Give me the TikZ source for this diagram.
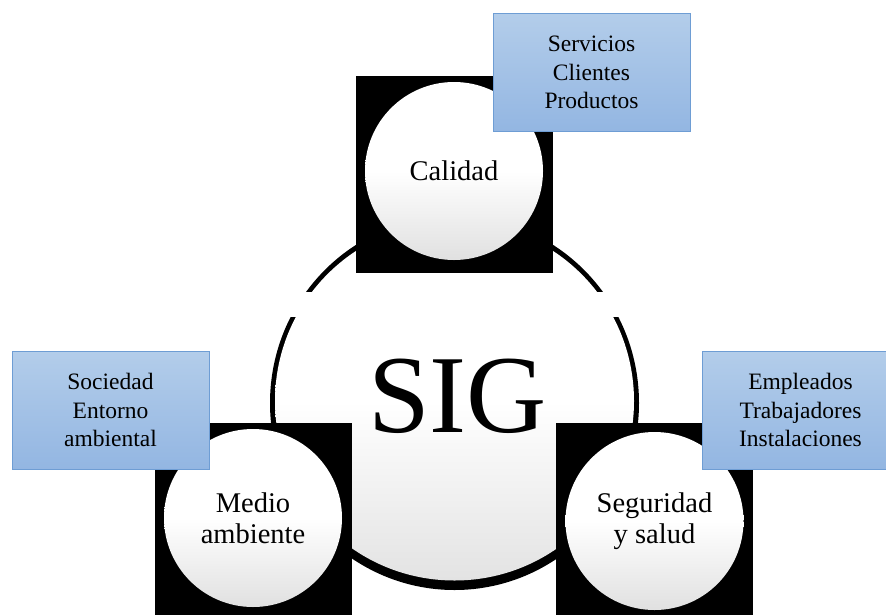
\documentclass[tikz,border=0pt]{standalone}
\usepackage{fontspec}
\setmainfont{Liberation Serif}
\definecolor{boxtop}{HTML}{B3CDEA}
\definecolor{boxbot}{HTML}{93B6E2}
\definecolor{boxline}{HTML}{6E9DD4}
\tikzset{
  blacksq/.style={draw=none, fill=black, minimum size=197pt, inner sep=0pt},
  smallcirc/.style={circle, minimum size=178pt, inner sep=0pt, top color=white, bottom color=black!12, middle color=white, align=center, font=\fontsize{28.5}{30.5}\selectfont},
  bluebox/.style={draw=boxline, line width=1pt, top color=boxtop, bottom color=boxbot, minimum width=197pt, minimum height=118pt, inner sep=0pt, align=center, font=\fontsize{23.5}{28.5}\selectfont},
}
\begin{document}
\begin{tikzpicture}[x=1pt, y=-1pt]
\useasboundingbox (0,0) rectangle (886,614);
\clip (0,0) rectangle (886,614);
\fill[white] (0,0) rectangle (886,614);
% big circle with shadowed rim
\fill[black] (454.5,403) ellipse [x radius=184.5, y radius=187];
\node[circle, minimum size=359pt, inner sep=0pt, top color=white, bottom color=black!11, middle color=white] (sig) at (454.5,401) {};
\fill[white] (276,292) rectangle (634,317);
\node[font=\fontsize{111}{116}\selectfont] (sigtext) at (457.5,396) {SIG};
% squares and circles
\node[blacksq] (sqcal) at (454.5,174) {};
\node[smallcirc] (cal) at (454,171) {Calidad};
\node[blacksq] (sqmed) at (253,521.5) {};
\node[smallcirc] (med) at (253,518) {Medio\\ambiente};
\node[blacksq] (sqseg) at (654.5,521.5) {};
\node[smallcirc] (seg) at (654.5,521) {Seguridad\\y salud};
% blue boxes
\node[bluebox] (bcal) at (591.5,72.5) {Servicios\\Clientes\\Productos};
\node[bluebox] (bmed) at (110.5,410) {Sociedad\\Entorno\\ambiental};
\node[bluebox] (bseg) at (800.5,410) {Empleados\\Trabajadores\\Instalaciones};
\end{tikzpicture}
\end{document}
